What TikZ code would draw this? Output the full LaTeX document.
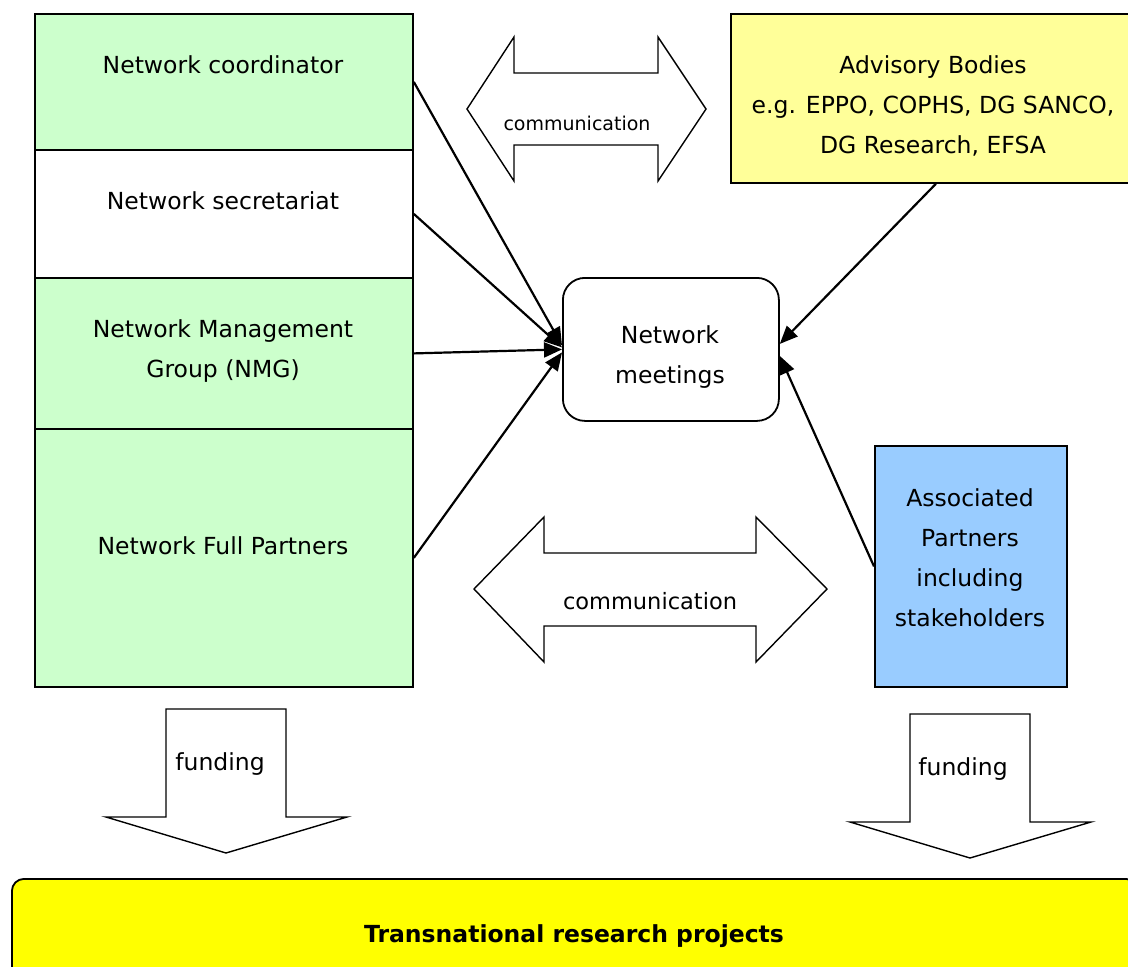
\documentclass[tikz,border=0pt]{standalone}
\usepackage{fontspec}
\setmainfont{DejaVu Sans}
\usetikzlibrary{arrows.meta}

\definecolor{mintgreen}{HTML}{CCFFCC}
\definecolor{paleyellow}{HTML}{FFFF99}
\definecolor{skyblue}{HTML}{99CCFF}
\definecolor{brightyellow}{HTML}{FFFF00}

\begin{document}
\begin{tikzpicture}[x=1pt,y=-1pt,
  cell/.style={draw=black, line width=1.8pt, anchor=north west, inner sep=0pt},
  % multi-line labels are placed by the baseline of their last line
  label/.style={anchor=base, align=center, inner sep=0pt,
    font=\fontsize{23.5}{40}\selectfont},
  smalllabel/.style={anchor=base, inner sep=0pt, font=\fontsize{19}{24}\selectfont},
  blockarrow/.style={draw=black, fill=white, line width=1.4pt, line join=miter},
  link/.style={draw=black, line width=2.2pt,
    -{Triangle[length=18pt,width=15pt]}}]

\useasboundingbox (0,0) rectangle (1128,967);

% left column: network bodies
\node[cell, fill=mintgreen, minimum width=378pt, minimum height=136pt] (coord) at (34,13) {};
\node[cell, fill=white, minimum width=378pt, minimum height=128pt] (secr) at (34,149) {};
\node[cell, fill=mintgreen, minimum width=378pt, minimum height=151pt] (nmg) at (34,277) {};
\node[cell, fill=mintgreen, minimum width=378pt, minimum height=258pt] (full) at (34,428) {};
\node[label] (coordtxt) at (223,73) {Network coordinator};
\node[label] (secrtxt) at (223,209) {Network secretariat};
\node[label] (nmgtxt) at (223,377) {Network Management\\Group (NMG)};
\node[label] (fulltxt) at (223,554) {Network Full Partners};

% advisory bodies
\node[cell, fill=paleyellow, minimum width=406pt, minimum height=169pt] (adv) at (730,13) {};
\node[label] (advtxt) at (933,153) {Advisory Bodies\\e.g. EPPO, COPHS, DG SANCO,\\DG Research, EFSA};

% network meetings
\node[draw=black, line width=1.8pt, rounded corners=22pt, fill=white,
  minimum width=216pt, minimum height=143pt, anchor=north west, inner sep=0pt]
  (meet) at (562,277) {};
\node[label] (meettxt) at (670,383) {Network\\meetings};

% associated partners
\node[cell, fill=skyblue, minimum width=192pt, minimum height=241pt] (assoc) at (874,445) {};
\node[label] (assoctxt) at (970,626) {Associated\\Partners\\including\\stakeholders};

% communication arrows
\path[blockarrow] (467,109) -- (514,37) -- (514,73) -- (658,73) -- (658,37) -- (706,109)
  -- (658,181) -- (658,145) -- (514,145) -- (514,181) -- cycle;
\node[smalllabel] (comm1) at (577,130) {communication};
\path[blockarrow] (474,589) -- (544,517) -- (544,553) -- (756,553) -- (756,517) -- (827,589)
  -- (756,662) -- (756,626) -- (544,626) -- (544,662) -- cycle;
\node[label, font=\fontsize{22.5}{30}\selectfont] (comm2) at (650,609) {communication};

% funding arrows
\path[blockarrow] (166,709) -- (286,709) -- (286,817) -- (347,817) -- (226,853)
  -- (106,817) -- (166,817) -- cycle;
\node[label] (fund1) at (220,770) {funding};
\path[blockarrow] (910,714) -- (1030,714) -- (1030,822) -- (1091,822) -- (970,858)
  -- (850,822) -- (910,822) -- cycle;
\node[label] (fund2) at (963,775) {funding};

% transnational research projects
\node[draw=black, line width=1.8pt, rounded corners=12pt, fill=brightyellow,
  minimum width=1126pt, minimum height=120pt, anchor=north west, inner sep=0pt]
  (trans) at (11,878) {};
\node[anchor=base, inner sep=0pt, font=\fontsize{23.5}{28}\selectfont\bfseries]
  (transtxt) at (574,942) {Transnational research projects};

% links into the network meetings
\draw[link] (coord.east) -- ([yshift=4pt]meet.west);
\draw[link] (secr.east) -- ([yshift=2pt]meet.west);
\draw[link] (nmg.east) -- (meet.west);
\draw[link] (full.east) -- ([yshift=-3pt]meet.west);
\draw[link] ([xshift=2pt]adv.south) -- ([yshift=5.5pt]meet.east);
\draw[link] (assoc.west) -- ([yshift=-6.5pt]meet.east);

\end{tikzpicture}
\end{document}
